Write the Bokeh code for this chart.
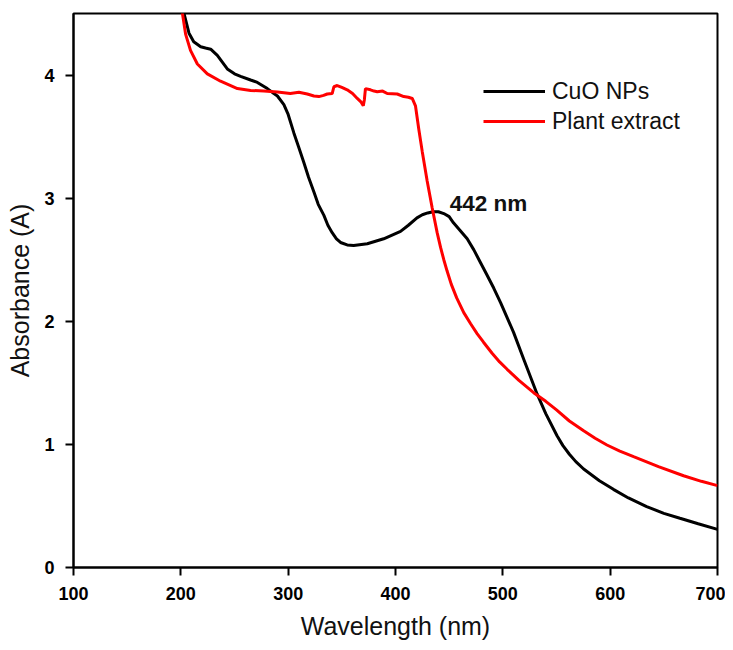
from bokeh.plotting import figure
from bokeh.models import Legend, LegendItem, Label, Range1d, FixedTicker
from bokeh.embed import file_html
from bokeh.resources import INLINE

# ---- data ----
wavelength_cuo = [200, 203, 207.6, 212, 218.5, 223, 227.8, 234, 243.3, 250, 255.7, 265,
                  271.3, 280.6, 286.7, 290, 296, 300, 305.3, 310, 314.6, 319, 324, 328,
                  333.3, 337, 341, 345, 348.8, 355, 361, 373.7, 389, 404.7, 412, 420, 425,
                  430, 435, 440, 445, 450, 454, 460, 466.8, 473, 479, 485, 491.5, 498, 504,
                  510, 520, 531.9, 540, 550.5, 556, 562, 568, 575.3, 590, 603, 617, 634, 650,
                  665, 682, 700]
absorbance_cuo = [4.62, 4.50, 4.34, 4.27, 4.23, 4.22, 4.21, 4.16, 4.05, 4.01, 3.99, 3.96,
                  3.94, 3.89, 3.85, 3.83, 3.76, 3.68, 3.53, 3.41, 3.29, 3.17, 3.05, 2.95,
                  2.86, 2.78, 2.72, 2.67, 2.64, 2.62, 2.615, 2.63, 2.67, 2.73, 2.78, 2.84, 2.865,
                  2.88, 2.89, 2.89, 2.875, 2.85, 2.80, 2.74, 2.67, 2.58, 2.48, 2.38, 2.27, 2.15, 2.03,
                  1.91, 1.68, 1.41, 1.25, 1.07, 0.99, 0.92, 0.86, 0.80, 0.705, 0.635, 0.565, 0.495,
                  0.44, 0.40, 0.355, 0.31]

wavelength_plant = [200, 201.5, 204.5, 209, 215.4, 224.7, 237, 252.7, 265, 277.4, 290, 302,
                    310, 317.8, 324, 328.6, 333, 336.4, 341, 342.6, 345.7, 350, 355, 360,
                    364.4, 368, 370, 371, 372, 376.7, 380, 383, 388, 392.3, 401.6, 407.7,
                    412, 415.6, 418.6, 421.7, 424.9, 429.5, 434.2, 438.8, 442, 445,
                    448, 452, 457, 463.6, 470, 476, 482, 490, 497, 504, 515, 528.7, 540,
                    550, 562, 575.3, 586, 597, 609, 621.8, 645, 668.4, 685, 700]
absorbance_plant = [4.58, 4.50, 4.33, 4.20, 4.09, 4.01, 3.95, 3.89, 3.875, 3.87, 3.862, 3.85,
                    3.86, 3.846, 3.83, 3.825, 3.835, 3.846, 3.85, 3.905, 3.915, 3.90, 3.88, 3.85,
                    3.81, 3.78, 3.75, 3.80, 3.89, 3.88, 3.87, 3.865, 3.87, 3.85, 3.846, 3.825,
                    3.82, 3.81, 3.75, 3.56, 3.38, 3.14, 2.92, 2.72, 2.60, 2.50,
                    2.41, 2.30, 2.19, 2.07, 1.98, 1.90, 1.83, 1.74, 1.67, 1.61, 1.52, 1.42, 1.35,
                    1.28, 1.19, 1.11, 1.05, 0.995, 0.945, 0.90, 0.82, 0.745, 0.70, 0.665]

series_names = ["CuO NPs", "Plant extract"]
x_ticks = [100, 200, 300, 400, 500, 600, 700]
y_ticks = [0, 1, 2, 3, 4]
peak_text = "442 nm"
peak_text_pos = (450.6, 2.96)

FONT = "Liberation Sans"

p = figure(width=725, height=642, output_backend="svg", toolbar_location=None,
           x_range=Range1d(100, 700), y_range=Range1d(0, 4.5),
           min_border_left=73, min_border_top=13, min_border_right=8, min_border_bottom=75,
           background_fill_color="white", border_fill_color="white")

p.xgrid.visible = False
p.ygrid.visible = False
p.outline_line_color = "black"
p.outline_line_width = 2

for ax, ticks in ((p.xaxis[0], x_ticks), (p.yaxis[0], y_ticks)):
    ax.ticker = FixedTicker(ticks=ticks)
    ax.axis_line_width = 2
    ax.axis_line_color = "black"
    ax.major_tick_line_width = 2
    ax.major_tick_line_color = "black"
    ax.major_tick_out = 8
    ax.major_tick_in = 0
    ax.minor_tick_line_color = None
    ax.major_label_text_font = FONT
    ax.major_label_text_font_style = "bold"
    ax.major_label_text_font_size = "18px"
    ax.major_label_text_color = "black"
    ax.axis_label_text_font = FONT
    ax.axis_label_text_font_style = "normal"
    ax.axis_label_text_font_size = "25px"
    ax.axis_label_text_color = "#111111"

p.xaxis.axis_label = "Wavelength (nm)"
p.yaxis.axis_label = "Absorbance (A)"
p.xaxis.major_label_standoff = 11
p.yaxis.major_label_standoff = 11
p.xaxis.axis_label_standoff = 9
p.yaxis.axis_label_standoff = 7

r1 = p.line(wavelength_cuo, absorbance_cuo, line_color="black", line_width=3)
r2 = p.line(wavelength_plant, absorbance_plant, line_color="#ff0000", line_width=3)

legend = Legend(items=[LegendItem(label=series_names[0], renderers=[r1]),
                       LegendItem(label=series_names[1], renderers=[r2])],
                location=(410, 431), orientation="vertical",
                border_line_color=None, background_fill_alpha=0,
                padding=0, margin=0, spacing=0,
                glyph_width=62, glyph_height=30, label_height=30,
                label_standoff=7,
                label_text_font=FONT, label_text_font_size="23px",
                label_text_color="#111111")
p.add_layout(legend, "center")

p.add_layout(Label(x=peak_text_pos[0], y=peak_text_pos[1], text=peak_text,
                   text_font=FONT, text_font_style="bold", text_font_size="22.5px",
                   text_color="#111111", text_baseline="alphabetic"))

open("out.html", "w").write(file_html(p, INLINE))
